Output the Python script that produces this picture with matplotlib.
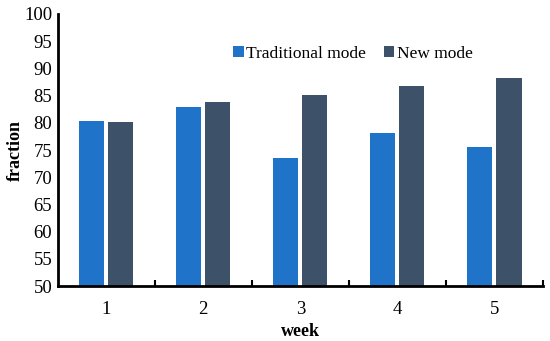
import matplotlib.pyplot as plt
import numpy as np

weeks = ["1", "2", "3", "4", "5"]
traditional = [80.4, 83.0, 73.5, 78.2, 75.5]
new_mode = [80.2, 83.9, 85.2, 86.8, 88.2]

plt.rcParams['font.family'] = ['Liberation Serif', 'DejaVu Serif']

fig = plt.figure(figsize=(5.5, 3.41), dpi=100)
ax = fig.add_axes([0.105, 0.161, 0.882, 0.798])

x = np.arange(len(weeks))
w = 0.26
ax.bar(x - 0.15, traditional, w, color="#1f73c9", label="Traditional mode")
ax.bar(x + 0.15, new_mode, w, color="#3d5269", label="New mode")

ax.set_xlim(-0.5, len(weeks) - 0.5)
ax.set_ylim(50, 100)
ax.set_yticks(range(50, 101, 5))
ax.set_xticks(x)
ax.set_xticklabels(weeks)
ax.set_xticks(np.arange(0.5, len(weeks), 1), minor=True)
ax.tick_params(axis="x", which="major", length=0, labelsize=13.5, pad=11)
ax.tick_params(axis="x", which="minor", direction="in", length=4, width=1.5)
ax.tick_params(axis="y", length=0, labelsize=13.5, pad=4)

for s in ["top", "right"]:
    ax.spines[s].set_visible(False)
for s in ["left", "bottom"]:
    ax.spines[s].set_linewidth(2)

ax.set_xlabel("week", fontsize=13, fontweight="bold", labelpad=3)
ax.set_ylabel("fraction", fontsize=13, fontweight="bold", labelpad=0)

ax.legend(loc="upper left", bbox_to_anchor=(0.33, 0.94), ncol=2, frameon=False,
          fontsize=12.5, handlelength=0.6, handleheight=0.6, handletextpad=0.15,
          columnspacing=1.0)

plt.savefig("out.png", dpi=100)
